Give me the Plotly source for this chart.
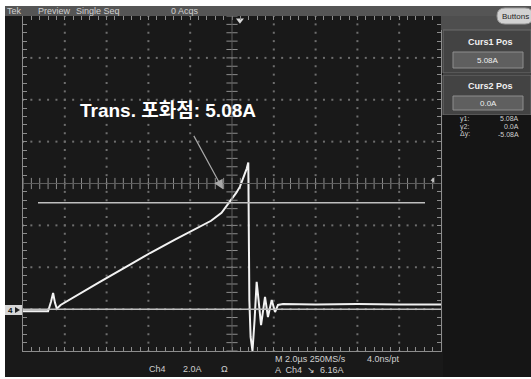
import numpy as np
import plotly.graph_objects as go

# Captured waveform: Ch4 current (A) vs time (µs), 2.0 µs/div, 2.0 A/div
time_us = [-10.0, -8.80, -8.66, -8.56, -8.47, -8.38, -8.20, -7.27, -6.32, -4.88,
           -3.92, -2.73, -2.0, -1.0, -0.5, -0.19, 0.0, 0.2,
           0.38, 0.55, 0.70, 0.78, 0.83, 0.89, 0.98, 1.08, 1.18, 1.27,
           1.39, 1.58, 1.72, 1.90, 2.06, 2.20, 2.44, 4.0, 6.0, 8.0, 10.0]
current_a = [-0.10, -0.10, 0.35, 0.77, 0.30, 0.02, 0.20, 0.75, 1.30, 2.12,
             2.68, 3.32, 3.70, 4.22, 4.60, 5.00, 5.28, 5.55,
             5.85, 6.28, 6.70, 7.00, 0.44, -1.33, -2.0, -0.52, 1.30, 0.44,
             -0.76, 0.58, -0.38, 0.44, -0.14, 0.20, 0.24, 0.22, 0.24, 0.22, 0.22]

# Cursor levels and trigger settings
cursor_levels = [5.08, 0.0]
cursor_labels = ["Curs1 Pos", "Curs2 Pos"]
cursor_values = ["5.08A", "0.0A"]
readout_names = ["y1:", "y2:", "Δy:"]
readout_values = ["5.08A", "0.0A", "-5.08A"]
trigger_level = 6.16
trigger_time = 0.38

X0, X1 = -10.0, 10.0
Y0, Y1 = -2.0, 14.0
W, H = 531, 379
ML, MR, MT, MB = 23, 90, 16, 28
PW, PH = W - ML - MR, H - MT - MB

def px(x):
    return (x - ML) / PW

def py(y):
    return (H - MB - y) / PH

BG = "#191919"
GRID = "#6e6e6e"
FRAME = "#8c8c8c"
TXT = "#cfcfcf"

fig = go.Figure()

# dotted graticule
gx, gy = [], []
for xv in np.arange(-8, 9, 2):
    if xv == 0:
        continue
    for yv in np.arange(Y0, Y1 + 0.01, 0.4):
        gx.append(xv); gy.append(yv)
for yv in np.arange(0, 13, 2):
    if yv == 6:
        continue
    for xv in np.arange(X0, X1 + 0.01, 0.4):
        gx.append(xv); gy.append(yv)
fig.add_trace(go.Scatter(x=gx, y=gy, mode="markers", hoverinfo="skip",
                         marker=dict(symbol="square", size=2, color=GRID, line=dict(width=0))))

# centre crosshair with minor ticks
fig.add_shape(type="line", x0=0, x1=0, y0=Y0, y1=Y1, line=dict(color="#5e5e5e", width=1))
fig.add_shape(type="line", x0=X0, x1=X1, y0=6, y1=6, line=dict(color="#5e5e5e", width=1))
cy = list(np.arange(Y0, Y1 + 0.01, 0.4))
fig.add_trace(go.Scatter(x=[0] * len(cy), y=cy, mode="markers", hoverinfo="skip",
                         marker=dict(symbol="line-ew", size=8, line=dict(color=FRAME, width=1))))
cx = list(np.arange(X0, X1 + 0.01, 0.4))
fig.add_trace(go.Scatter(x=cx, y=[6] * len(cx), mode="markers", hoverinfo="skip",
                         marker=dict(symbol="line-ns", size=8, line=dict(color=FRAME, width=1))))

# cursor lines
fig.add_shape(type="line", xref="paper", x0=px(38), x1=px(425), y0=cursor_levels[0], y1=cursor_levels[0],
              line=dict(color="#bfbfbf", width=1.5))
fig.add_shape(type="line", x0=X0, x1=X1, y0=cursor_levels[1], y1=cursor_levels[1],
              line=dict(color="#bfbfbf", width=1.5))

# waveform
fig.add_trace(go.Scatter(x=time_us, y=current_a, mode="lines", hoverinfo="skip",
                         line=dict(color="#f2f2f2", width=2)))

# trigger position / level markers
fig.add_trace(go.Scatter(x=[trigger_time], y=[Y1 - 0.2], mode="markers", cliponaxis=False,
                         marker=dict(symbol="triangle-down", size=7, color="#d8d8d8"), hoverinfo="skip"))
fig.add_trace(go.Scatter(x=[9.62], y=[trigger_level], mode="markers", cliponaxis=False,
                         marker=dict(symbol="triangle-left", size=5, color="#bdbdbd"), hoverinfo="skip"))

shapes = []
def rect(x0, y0, x1, y1, fill, line=None, lw=0):
    shapes.append(dict(type="rect", xref="paper", yref="paper", layer="above",
                       x0=px(x0), x1=px(x1), y0=py(y1), y1=py(y0), fillcolor=fill,
                       line=dict(color=line or fill, width=lw)))

# status bar and side panel
rect(0, 0, W, 16, "#555555")
rect(441, 16, W, 30, "#4e4e4e")
rect(443, 30, W, 73, "#434343", "#6c6c6c", 1)
rect(443, 75, W, 115, "#434343", "#6c6c6c", 1)
rect(453, 52, 523, 68, "#5f5f5f", "#8e8e8e", 1)
rect(453, 96, 523, 110, "#5f5f5f", "#8e8e8e", 1)
rect(443, 115, W, H, "#151515")
# channel-4 ground marker
rect(5, 305, 22, 315, "#d6d6d6")
shapes.append(dict(type="path", xref="paper", yref="paper", layer="above",
                   path=f"M {px(15)},{py(307)} L {px(20)},{py(310)} L {px(15)},{py(313)} Z",
                   fillcolor="#222222", line=dict(color="#222222", width=0)))
# pill button
bx0, bx1, by0, by1 = 497, 533, 8, 24
r = 8
path = (f"M {px(bx0 + r)},{py(by0)} L {px(bx1 - r)},{py(by0)} "
        f"Q {px(bx1)},{py(by0)} {px(bx1)},{py((by0 + by1) / 2)} "
        f"Q {px(bx1)},{py(by1)} {px(bx1 - r)},{py(by1)} L {px(bx0 + r)},{py(by1)} "
        f"Q {px(bx0)},{py(by1)} {px(bx0)},{py((by0 + by1) / 2)} "
        f"Q {px(bx0)},{py(by0)} {px(bx0 + r)},{py(by0)} Z")
shapes.append(dict(type="path", xref="paper", yref="paper", path=path, layer="above",
                   fillcolor="#d2d2d2", line=dict(color="#9a9a9a", width=1)))
# white picture margins
rect(0, 0, W, 6, "#ffffff")
rect(0, 0, 5, H, "#ffffff")
rect(0, 377, W, H, "#ffffff")
for s in shapes:
    fig.add_shape(**s)

ann = []
def label(x, y, text, size=8, color=TXT, anchor="left", bold=False, family="Liberation Sans, Arial, sans-serif"):
    ann.append(dict(xref="paper", yref="paper", x=px(x), y=py(y), text=f"<b>{text}</b>" if bold else text,
                    showarrow=False, xanchor=anchor, yanchor="middle",
                    font=dict(size=size, color=color, family=family)))

label(5, 11, "Tek", size=9)
label(36, 11, "Preview", size=9)
label(74, 11, "Single Seq", size=9)
label(169, 11, "0 Acqs", size=9)
label(515, 16, "Buttons", size=8, color="#222222", anchor="center")
label(490, 42, cursor_labels[0], size=9, color="#f0f0f0", anchor="center", bold=True)
label(488, 60, cursor_values[0], size=8, color="#f0f0f0", anchor="center")
label(490, 86, cursor_labels[1], size=9, color="#f0f0f0", anchor="center", bold=True)
label(488, 103, cursor_values[1], size=8, color="#f0f0f0", anchor="center")
for i, (n, v) in enumerate(zip(readout_names, readout_values)):
    label(458, 119 + 7.5 * i, n, size=7)
    label(521, 119 + 7.5 * i, v, size=7, anchor="right")
label(10, 310, "4", size=8, color="#111111", anchor="center", bold=True)
label(147, 369, "Ch4", size=9)
label(181, 369, "2.0A", size=9)
label(219, 369, "Ω", size=9)
label(273, 359, "M 2.0µs 250MS/s", size=9)
label(365, 359, "4.0ns/pt", size=9)
label(273, 370, "A  Ch4  ↘  6.16A", size=9)
label(168, 110, "Trans. 포화점: 5.08A", size=19, color="#ffffff", anchor="center", bold=True,
      family="Liberation Sans, 'Noto Sans CJK KR', sans-serif")
# pointer to the saturation point
ann.append(dict(x=-0.43, y=5.72, xref="x", yref="y", ax=-30, ay=-55, text="", showarrow=True,
                arrowhead=2, arrowsize=1.6, arrowwidth=1.2, arrowcolor="#a8a8a8"))
fig.update_layout(annotations=ann)

axis_common = dict(showgrid=False, zeroline=False, showticklabels=False, showline=True,
                   linecolor=FRAME, linewidth=1, mirror="allticks", ticks="inside",
                   ticklen=4, tickcolor=FRAME, tickwidth=1)
fig.update_xaxes(range=[X0, X1], tick0=X0, dtick=0.4, **axis_common)
fig.update_yaxes(range=[Y0, Y1], tick0=Y0, dtick=0.4, **axis_common)
fig.update_layout(width=W, height=H, margin=dict(l=ML, r=MR, t=MT, b=MB),
                  paper_bgcolor=BG, plot_bgcolor=BG, showlegend=False)

fig.write_html("out.html")
